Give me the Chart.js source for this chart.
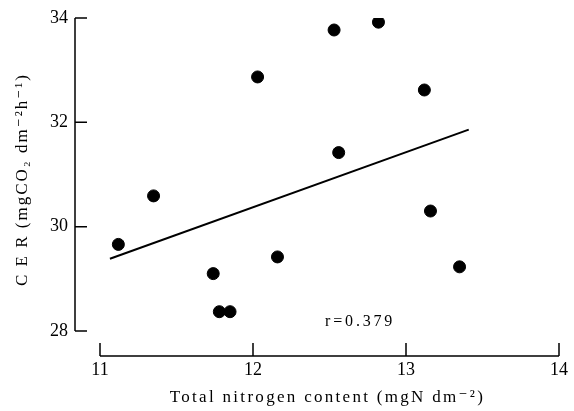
<!DOCTYPE html>
<html>
<head>
<meta charset="utf-8">
<script src="https://cdn.jsdelivr.net/npm/chart.js@4"></script>
<style>
  html, body { margin: 0; padding: 0; background: #fff; }
  #wrap { width: 574px; height: 411px; }
</style>
</head>
<body>
<div id="wrap"><canvas id="cerChart" width="574" height="411"></canvas></div>
<script>
// Leaf nitrogen vs CER scatter
const nitrogen = [11.12, 11.35, 11.74, 11.78, 11.85, 12.03, 12.16, 12.53, 12.56, 12.82, 13.12, 13.16, 13.35];
const cer      = [29.66, 30.59, 29.10, 28.37, 28.37, 32.87, 29.42, 33.77, 31.42, 33.92, 32.62, 30.30, 29.23];

// regression line end points
const fitX = [11.065, 13.41];
const fitY = [29.385, 31.86];

const xTicks = [11, 12, 13, 14];
const yTicks = [28, 30, 32, 34];

const xTitle = 'Total nitrogen content (mgN dm\u207B\u00B2)';
const yTitle = 'C E R (mgCO\u2082 dm\u207B\u00B2h\u207B\u00B9)';
const rLabel = 'r=0.379';
const rPos = { x: 12.70, y: 28.17 };

const FONT = '"Liberation Serif", "DejaVu Serif", serif';

// no extra room for overhanging tick labels, the layout padding decides the plot box
function noPad(s) {
  s.paddingTop = 0;
  s.paddingBottom = 0;
  s.paddingLeft = 0;
  s.paddingRight = 0;
}

// draws the detached axis lines, inward ticks, titles and r value
const axesPlugin = {
  id: 'axesPlugin',
  afterDraw(chart) {
    const { ctx, chartArea, scales } = chart;
    const xs = scales.x, ys = scales.y;
    const axisX = chartArea.left - 25;
    const axisY = chartArea.bottom + 25;

    ctx.save();
    ctx.strokeStyle = '#000';
    ctx.lineWidth = 1.5;

    // y axis
    ctx.beginPath();
    ctx.moveTo(axisX, ys.getPixelForValue(yTicks[0]));
    ctx.lineTo(axisX, ys.getPixelForValue(yTicks[yTicks.length - 1]));
    for (const t of yTicks) {
      const py = ys.getPixelForValue(t);
      ctx.moveTo(axisX, py);
      ctx.lineTo(axisX + 12, py);
    }
    ctx.stroke();

    // x axis
    ctx.beginPath();
    ctx.moveTo(xs.getPixelForValue(xTicks[0]), axisY);
    ctx.lineTo(xs.getPixelForValue(xTicks[xTicks.length - 1]), axisY);
    for (const t of xTicks) {
      const px = xs.getPixelForValue(t);
      ctx.moveTo(px, axisY);
      ctx.lineTo(px, axisY - 13);
    }
    ctx.stroke();

    ctx.fillStyle = '#000';
    ctx.textAlign = 'center';
    ctx.textBaseline = 'middle';

    // x title
    ctx.font = '17px ' + FONT;
    ctx.letterSpacing = '2.3px';
    ctx.fillText(xTitle, (chartArea.left + chartArea.right) / 2 - 2, 398);

    // y title
    ctx.save();
    ctx.translate(23, (chartArea.top + chartArea.bottom) / 2 + 5);
    ctx.rotate(-Math.PI / 2);
    ctx.letterSpacing = '2px';
    ctx.fillText(yTitle, 0, 0);
    ctx.restore();

    // correlation label
    ctx.font = '16px ' + FONT;
    ctx.letterSpacing = '2.8px';
    ctx.fillText(rLabel, xs.getPixelForValue(rPos.x), ys.getPixelForValue(rPos.y));
    ctx.restore();
  }
};

new Chart(document.getElementById('cerChart'), {
  type: 'scatter',
  data: {
    datasets: [
      {
        label: 'CER',
        data: nitrogen.map((n, i) => ({ x: n, y: cer[i] })),
        backgroundColor: '#000',
        borderColor: '#000',
        pointRadius: 6,
        pointHoverRadius: 6
      },
      {
        label: 'fit',
        type: 'line',
        data: fitX.map((x, i) => ({ x: x, y: fitY[i] })),
        borderColor: '#000',
        borderWidth: 2,
        pointRadius: 0,
        fill: false
      }
    ]
  },
  options: {
    responsive: false,
    animation: false,
    layout: { padding: { top: 18, right: 15, left: 0, bottom: 0 } },
    plugins: {
      legend: { display: false },
      tooltip: { enabled: false }
    },
    scales: {
      x: {
        type: 'linear',
        min: 11,
        max: 14,
        afterFit: (s) => { s.height = 80; noPad(s); },
        afterBuildTicks: (s) => { s.ticks = xTicks.map(v => ({ value: v })); },
        grid: { display: false, drawTicks: false },
        border: { display: false },
        ticks: { color: '#000', padding: 28, font: { family: FONT, size: 18 } }
      },
      y: {
        type: 'linear',
        min: 28,
        max: 34,
        afterFit: (s) => { s.width = 100; noPad(s); },
        afterBuildTicks: (s) => { s.ticks = yTicks.map(v => ({ value: v })); },
        grid: { display: false, drawTicks: false },
        border: { display: false },
        ticks: { color: '#000', padding: 32, font: { family: FONT, size: 18 } }
      }
    }
  },
  plugins: [axesPlugin]
});
</script>
</body>
</html>
